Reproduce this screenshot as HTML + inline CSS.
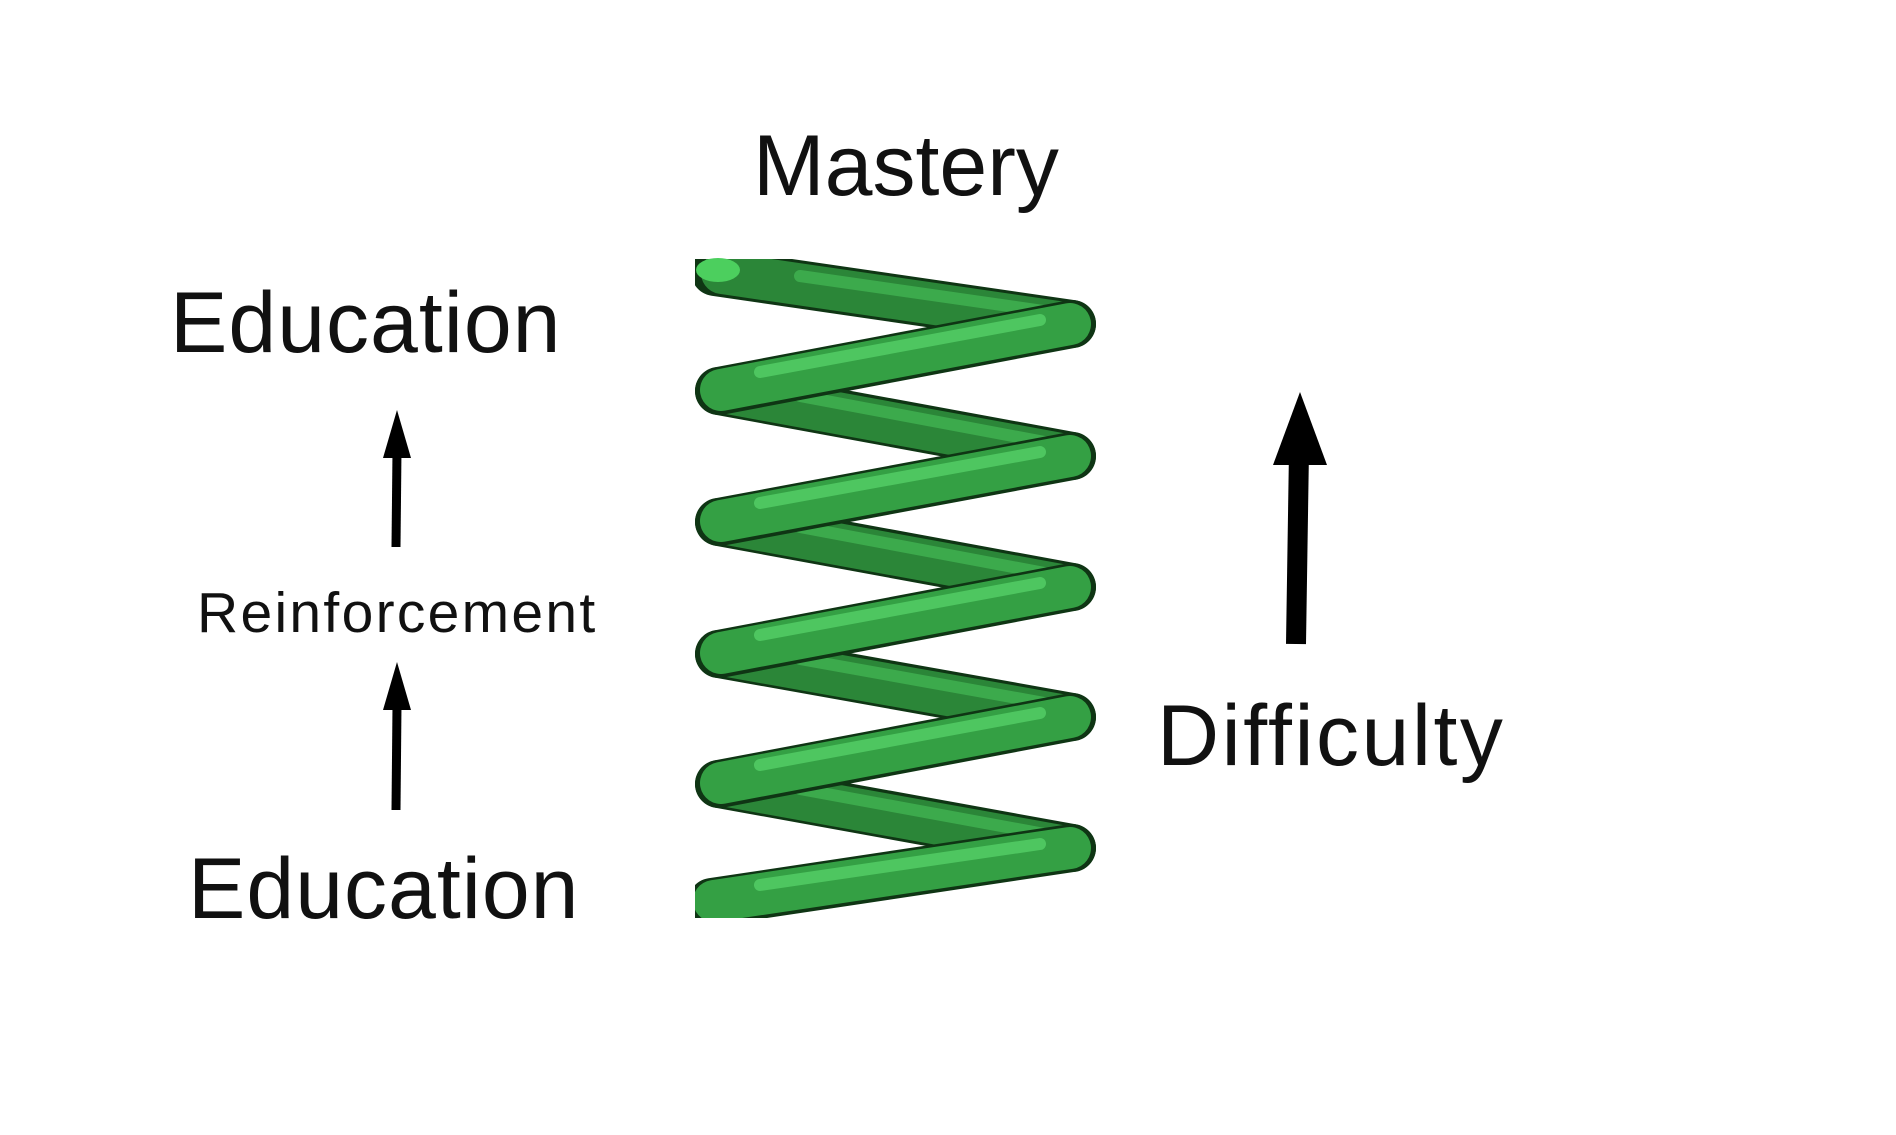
<!DOCTYPE html>
<html><head><meta charset="utf-8"><style>
html,body{margin:0;padding:0;background:#fff;}
svg{display:block;}
text{font-family:"Liberation Sans",sans-serif;fill:#111;}
</style></head><body>
<svg width="1896" height="1135" viewBox="0 0 1896 1135" xmlns="http://www.w3.org/2000/svg">
<text x="753" y="195" font-size="86">Mastery</text>
<text x="170" y="352" font-size="86" letter-spacing="1">Education</text>
<text x="197" y="632" font-size="57" letter-spacing="2.3">Reinforcement</text>
<text x="188" y="918" font-size="86" letter-spacing="1">Education</text>
<text x="1157" y="765" font-size="86" letter-spacing="2.5">Difficulty</text>

<line x1="396" y1="547" x2="397" y2="450" stroke="#000" stroke-width="9"/>
<polygon points="397,410 383,458 411,458" fill="#000"/>
<line x1="396" y1="810" x2="397" y2="705" stroke="#000" stroke-width="9"/>
<polygon points="397,662 383,710 411,710" fill="#000"/>
<line x1="1296" y1="644" x2="1299" y2="450" stroke="#000" stroke-width="20"/>
<polygon points="1300,392 1273,465 1327,465" fill="#000"/>

<g fill="none" stroke-linecap="round">
<g stroke="#0f3514" stroke-width="48">
<path d="M715,272 L1072,324"/><path d="M719,391 L1072,456"/><path d="M719,522 L1072,587"/><path d="M719,654 L1072,717"/><path d="M719,784 L1072,848"/>
</g>
<g stroke="#2b8638" stroke-width="42">
<path d="M722,273 L1072,324"/><path d="M722,392 L1072,456"/><path d="M722,523 L1072,587"/><path d="M722,655 L1072,717"/><path d="M722,785 L1072,848"/>
</g>
<g stroke="#45b956" stroke-width="12" opacity="0.7">
<path d="M800,276 L1050,312"/><path d="M800,396 L1050,443"/><path d="M800,527 L1050,574"/><path d="M800,659 L1050,704"/><path d="M800,789 L1050,835"/>
</g>
<g stroke="#0f3514" stroke-width="48">
<path d="M1072,324 L719,391"/><path d="M1072,456 L719,522"/><path d="M1072,587 L719,654"/><path d="M1072,717 L719,784"/><path d="M1072,848 L712,902"/>
</g>
<g stroke="#34a044" stroke-width="42">
<path d="M1070,324 L721,390"/><path d="M1070,456 L721,521"/><path d="M1070,587 L721,653"/><path d="M1070,717 L721,783"/><path d="M1070,848 L714,901"/>
</g>
<g stroke="#55d068" stroke-width="12" opacity="0.8">
<path d="M1040,320 L760,372"/><path d="M1040,452 L760,503"/><path d="M1040,583 L760,635"/><path d="M1040,713 L760,765"/><path d="M1040,844 L760,885"/>
</g>
</g>
<rect x="660" y="230" width="35" height="700" fill="#fff"/>
<rect x="690" y="220" width="150" height="39" fill="#fff"/>
<rect x="690" y="918" width="150" height="20" fill="#fff"/>
<ellipse cx="718" cy="270" rx="22" ry="12" fill="#4ccf5e"/>
</svg>
</body></html>
